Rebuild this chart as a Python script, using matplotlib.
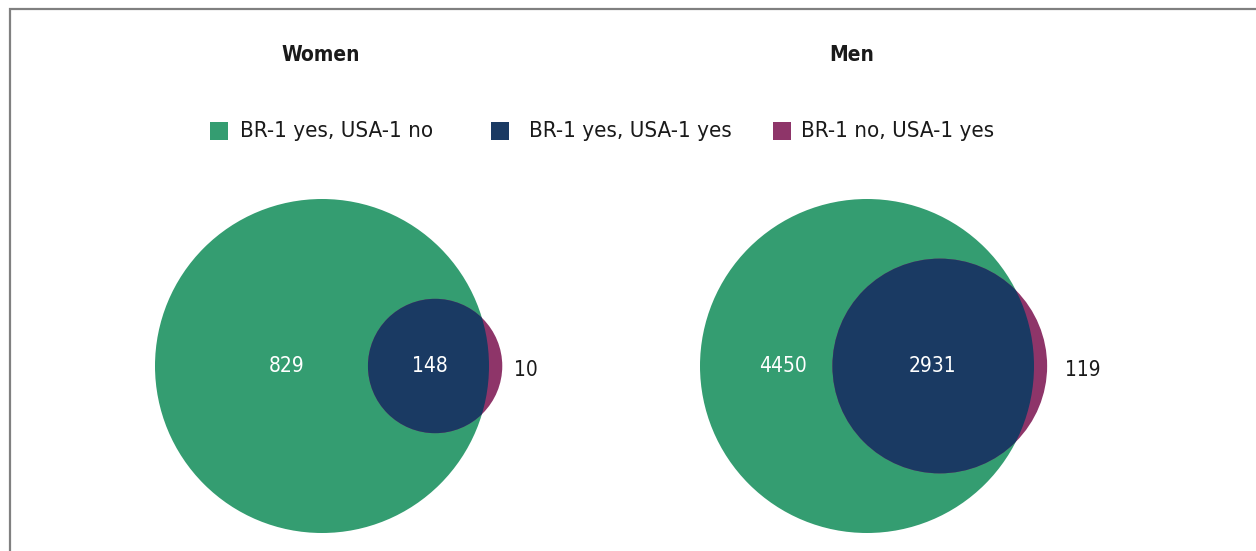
import numpy as np
import matplotlib
matplotlib.use("Agg")
import matplotlib.pyplot as plt
from matplotlib.patches import Circle, Rectangle

plt.rcParams['font.family'] = ['DejaVu Sans']
plt.rcParams['font.stretch'] = 'condensed'

# data
panels = ['Women', 'Men']
br_only = [829, 4450]        # BR-1 yes, USA-1 no
both = [148, 2931]           # BR-1 yes, USA-1 yes
usa_only = [10, 119]         # BR-1 no, USA-1 yes
legend_labels = ['BR-1 yes, USA-1 no', 'BR-1 yes, USA-1 yes', 'BR-1 no, USA-1 yes']

GREEN = '#349d71'
NAVY = '#1a3a63'
PURPLE = '#8e3569'
colors = [GREEN, NAVY, PURPLE]


def lens_area(R, r, d):
    """Intersection area of two circles with radii R, r and center distance d"""
    if d >= R + r:
        return 0.0
    if d <= abs(R - r):
        return np.pi * min(R, r) ** 2
    a = r * r * np.arccos((d * d + r * r - R * R) / (2 * d * r))
    b = R * R * np.arccos((d * d + R * R - r * r) / (2 * d * R))
    c = 0.5 * np.sqrt((-d + r + R) * (d + r - R) * (d - r + R) * (d + r + R))
    return a + b - c


def solve_distance(R, r, frac):
    """Find center distance so that the share of the small circle inside the big one is frac"""
    lo, hi = abs(R - r), R + r
    target = frac * np.pi * r * r
    for _ in range(100):
        mid = 0.5 * (lo + hi)
        if lens_area(R, r, mid) > target:
            lo = mid
        else:
            hi = mid
    return 0.5 * (lo + hi)


fig = plt.figure(figsize=(12.56, 5.51), dpi=100)
ax = fig.add_axes([0, 0, 1, 1])
ax.set_xlim(0, 1256)
ax.set_ylim(551, 0)
ax.axis('off')

# frame
ax.plot([10, 10, 1256], [551, 9, 9], color='#808080', lw=1.6, solid_joinstyle='miter')

R = 167.0
cy = 366.0
centers_x = [322.0, 867.0]
title_x = [321, 852]
label_pos = [(287, 430, 514), (783, 932, 1065)]

for i, name in enumerate(panels):
    br_total = br_only[i] + both[i]
    usa_total = both[i] + usa_only[i]
    r = R * np.sqrt(usa_total / br_total)
    d = solve_distance(R, r, both[i] / usa_total)
    cx = centers_x[i]
    ux = cx + d

    big = Circle((cx, cy), R, facecolor=GREEN, edgecolor='none', zorder=2)
    ax.add_patch(big)
    ax.add_patch(Circle((ux, cy), r, facecolor=PURPLE, edgecolor='none', zorder=3))
    inner = Circle((ux, cy), r, facecolor=NAVY, edgecolor='none', zorder=4)
    ax.add_patch(inner)
    inner.set_clip_path(big)

    ax.text(title_x[i], 55, name, ha='center', va='center', fontsize=15,
            fontweight='bold', color='#1a1a1a')
    lx1, lx2, lx3 = label_pos[i]
    ax.text(lx1, 366, f'{br_only[i]}', ha='center', va='center', fontsize=15, color='white', zorder=5)
    ax.text(lx2, 366, f'{both[i]}', ha='center', va='center', fontsize=15, color='white', zorder=5)
    ax.text(lx3, 370, f'{usa_only[i]}', ha='left', va='center', fontsize=15, color='#1a1a1a', zorder=5)

# legend
sq_x = [210, 491, 773]
txt_x = [240, 529, 801]
for k, lab in enumerate(legend_labels):
    ax.add_patch(Rectangle((sq_x[k], 122), 18, 18, facecolor=colors[k], edgecolor='none'))
    ax.text(txt_x[k], 131, lab, ha='left', va='center', fontsize=16, color='#1a1a1a')

fig.savefig('out.png', dpi=100)
